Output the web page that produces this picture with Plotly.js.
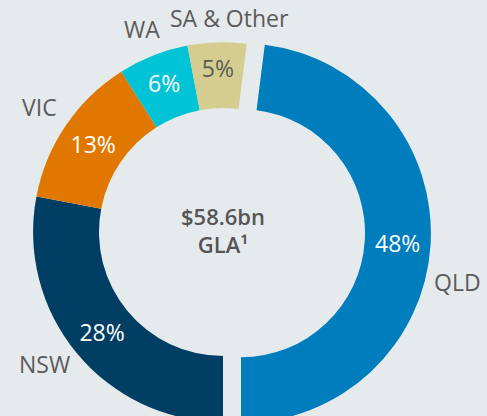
<!DOCTYPE html>
<html>
<head>
<meta charset="utf-8">
<script src="https://cdn.plot.ly/plotly-3.0.1.min.js"></script>
<style>
  html, body { margin: 0; padding: 0; background: #e5eaed; overflow: hidden; }
  #wrap { width: 487px; height: 416px; overflow: hidden; position: relative; }
  #chart { width: 487px; height: 464px; }
</style>
</head>
<body>
<div id="wrap"><div id="chart"></div></div>
<script>
// ---- data ----
const categories = ['QLD', 'NSW', 'VIC', 'WA', 'SA & Other'];
const shares = [48, 28, 13, 6, 5];
const centerLines = ['$58.6bn', 'GLA¹'];

// ---- styling ----
const colors = ['#007dbc', '#003f63', '#e07800', '#00c4d6', '#d4cd8f'];
const pctColors = ['#ffffff', '#ffffff', '#ffffff', '#ffffff', '#5b5b55'];
const pulls = [0.095, 0, 0, 0, 0];
const labelNudgeDeg = {'QLD': 9, 'NSW': 3, 'SA & Other': 3.5};
const labelGapOverride = {'SA & Other': 24, 'WA': 29};
const labelGap = 32;
const W = 487, H = 464;
const dom = {x: [0.0308, 0.885], y: [0.0517, 0.948]};

const total = shares.reduce((a, b) => a + b, 0);
// QLD ends exactly at 6 o'clock
const rotation = 180 - 360 * shares[0] / total;

// geometry (mirrors plotly's pie scaling with margins 0)
const maxPull = Math.max(...pulls);
const boxW = W * (dom.x[1] - dom.x[0]), boxH = H * (dom.y[1] - dom.y[0]);
const r = Math.min(boxW, boxH) / (2 + 2 * maxPull);
const cx = W * (dom.x[0] + dom.x[1]) / 2;
const cy = H * (2 - dom.y[0] - dom.y[1]) / 2;

const annotations = [];
let acc = rotation;
shares.forEach((v, i) => {
  const span = 360 * v / total;
  const mid = acc + span / 2;
  acc += span;
  const name = categories[i];
  const ang = (mid + (labelNudgeDeg[name] || 0)) * Math.PI / 180;
  const gap = (name in labelGapOverride) ? labelGapOverride[name] : labelGap;
  const midRad = mid * Math.PI / 180;
  const px = cx + r * pulls[i] * Math.sin(midRad) + (r + gap) * Math.sin(ang);
  const py = cy - r * pulls[i] * Math.cos(midRad) - (r + gap) * Math.cos(ang);
  annotations.push({
    text: name, xref: 'paper', yref: 'paper',
    x: px / W, y: 1 - py / H, xanchor: 'center', yanchor: 'middle',
    showarrow: false,
    font: {family: 'Open Sans', size: 23, color: '#5b5b5b'}
  });
});

const trace = {
  type: 'pie',
  labels: categories,
  values: shares,
  sort: false,
  direction: 'clockwise',
  rotation: rotation,
  hole: 0.653,
  pull: pulls,
  domain: dom,
  marker: {colors: colors, line: {width: 0}},
  texttemplate: '%{value}%',
  textposition: 'inside',
  insidetextorientation: 'horizontal',
  insidetextfont: {family: 'Open Sans', size: 23, color: pctColors},
  hoverinfo: 'none',
  showlegend: false,
  title: {
    text: centerLines.join('<br>'),
    position: 'middle center',
    font: {family: 'Open Sans', size: 22, color: '#555555', weight: 600}
  }
};

Plotly.newPlot('chart', [trace], {
  width: W, height: H,
  margin: {l: 0, r: 0, t: 0, b: 0},
  paper_bgcolor: '#e5eaed',
  plot_bgcolor: '#e5eaed',
  showlegend: false,
  annotations: annotations
}, {displayModeBar: false, staticPlot: true});
</script>
</body>
</html>
